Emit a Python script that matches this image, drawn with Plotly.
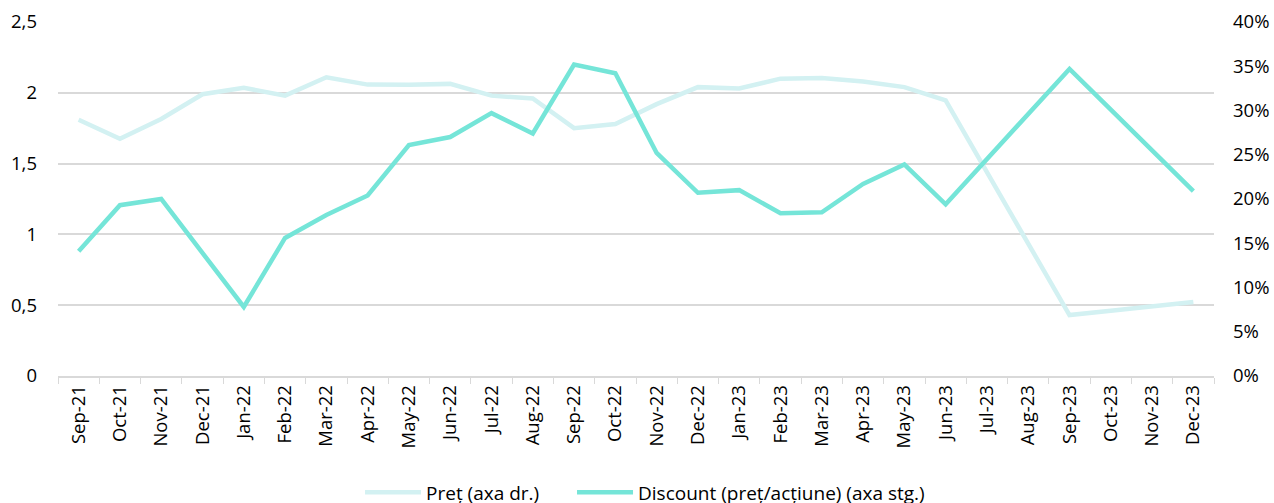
import plotly.graph_objects as go

months = ["Sep-21", "Oct-21", "Nov-21", "Dec-21", "Jan-22", "Feb-22", "Mar-22", "Apr-22",
          "May-22", "Jun-22", "Jul-22", "Aug-22", "Sep-22", "Oct-22", "Nov-22", "Dec-22",
          "Jan-23", "Feb-23", "Mar-23", "Apr-23", "May-23", "Jun-23", "Jul-23", "Aug-23",
          "Sep-23", "Oct-23", "Nov-23", "Dec-23"]

pret = [1.81, 1.676, 1.815, 1.99, 2.035, 1.98, 2.11, 2.058,
        2.056, 2.063, 1.98, 1.96, 1.75, 1.78, 1.92, 2.04,
        2.03, 2.10, 2.105, 2.08, 2.04, 1.947, 1.44, 0.94,
        0.43, 0.46, 0.49, 0.523]

discount_pct = [14.1, 19.3, 20.0, 14.0, 7.8, 15.6, 18.2, 20.4,
                26.1, 27.0, 29.7, 27.4, 35.2, 34.2, 25.2, 20.7,
                21.0, 18.4, 18.5, 21.7, 23.9, 19.4, 24.5, 29.6,
                34.7, 30.1, 25.5, 20.9]

left_ticks = [0, 0.5, 1, 1.5, 2, 2.5]
left_labels = ["0", "0,5", "1", "1,5", "2", "2,5"]
right_ticks = [0, 5, 10, 15, 20, 25, 30, 35, 40]
right_labels = ["0%", "5%", "10%", "15%", "20%", "25%", "30%", "35%", "40%"]

FONT = "Open Sans, sans-serif"
FS = 18.5

fig = go.Figure()
fig.add_trace(go.Scatter(
    x=months, y=pret, name="Preț (axa dr.)", mode="lines", legend="legend",
    line=dict(color="#D3F1F2", width=4.5), yaxis="y"))
fig.add_trace(go.Scatter(
    x=months, y=discount_pct, name="Discount (preț/acțiune) (axa stg.)", mode="lines",
    legend="legend2", line=dict(color="#75E5D8", width=4.5), yaxis="y2"))

legend_common = dict(orientation="h", xref="container", xanchor="left",
                     yref="container", y=0.021, yanchor="middle", itemwidth=56,
                     font=dict(size=19, family=FONT), bgcolor="rgba(0,0,0,0)")

fig.update_layout(
    width=1274, height=503,
    margin=dict(l=58, r=60, t=22, b=127),
    paper_bgcolor="white", plot_bgcolor="white",
    font=dict(family=FONT, size=FS, color="#000000"),
    showlegend=True,
    legend=dict(x=0.2826, **legend_common),
    legend2=dict(x=0.449, **legend_common),
    xaxis=dict(type="category", range=[-0.5, len(months) - 0.5], tickangle=-90,
               showgrid=False, automargin=False,
               showline=True, linecolor="#D9D9D9", linewidth=1.5,
               ticks="outside", tickson="boundaries", ticklen=6, tickcolor="#D9D9D9",
               tickfont=dict(size=FS, family=FONT)),
    yaxis=dict(range=[0, 2.5], tickvals=left_ticks, ticktext=left_labels, automargin=False,
               showgrid=True, gridcolor="#D9D9D9", gridwidth=1.5, zeroline=False,
               showline=False, ticks="", ticklabelstandoff=20,
               tickfont=dict(size=FS, family=FONT)),
    yaxis2=dict(range=[0, 40], tickvals=right_ticks, ticktext=right_labels, overlaying="y",
                side="right", automargin=False, showgrid=False, zeroline=False,
                showline=False, ticks="", ticklabelstandoff=18,
                tickfont=dict(size=FS, family=FONT)),
)

fig.write_html("out.html", config={"displayModeBar": False},
               post_script="document.body.style.margin='0';document.body.style.overflow='hidden';")
